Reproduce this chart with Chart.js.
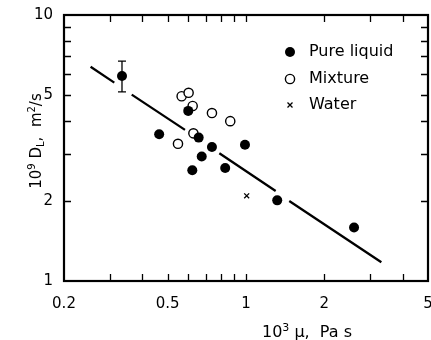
<!DOCTYPE html>
<html>
<head>
<meta charset="utf-8">
<script src="https://cdn.jsdelivr.net/npm/chart.js@4.4.1/dist/chart.umd.min.js"></script>
<style>
  html, body { margin: 0; padding: 0; background: #fff; }
  #wrap { width: 431px; height: 340px; }
</style>
</head>
<body>
<div id="wrap"><canvas id="chart" width="431" height="340"></canvas></div>
<script>
// Axis ticks (labelled and inward tick marks)
const xTickLabels = [0.2, 0.5, 1, 2, 5];
const yTickLabels = [1, 2, 5, 10];
const xTickMarks = [0.3, 0.4, 0.5, 0.6, 0.7, 0.8, 0.9, 1, 2, 3, 4];
const yTickMarks = [2, 3, 4, 5, 6, 7, 8, 9];

// Pure liquid (filled circles)
const pureX = [0.334, 0.600, 0.464, 0.658, 0.740, 0.991, 0.676, 0.622, 0.832, 1.318, 2.60];
const pureY = [5.90, 4.36, 3.56, 3.46, 3.19, 3.25, 2.94, 2.61, 2.66, 2.01, 1.59];

// Mixture (open circles)
const mixX = [0.566, 0.602, 0.624, 0.740, 0.870, 0.628, 0.548];
const mixY = [4.95, 5.10, 4.55, 4.28, 3.99, 3.59, 3.28];

// Water (x)
const waterX = [1.006];
const waterY = [2.09];

// Error bar on first pure liquid point
const errX = [0.334];
const errLow = [5.14];
const errHigh = [6.71];

// Fitted line, broken (null) where it passes the markers
const fitX = [0.253, 0.312, null, 0.364, 0.583, null, 0.790, 1.30, null, 1.466, 3.31];
const fitY = [6.39, 5.57, null, 5.02, 3.70, null, 3.02, 2.18, null, 2.00, 1.176];

const FONT = "'DejaVu Sans', sans-serif";
const toXY = (xs, ys) => xs.map((x, i) => ({x: x, y: ys[i]}));

// Frame, inward ticks, error bar, legend and axis titles
const decorPlugin = {
    id: 'decor',
    afterDatasetsDraw(chart) {
        const ctx = chart.ctx;
        const a = chart.chartArea;
        const xs = chart.scales.x;
        const ys = chart.scales.y;
        ctx.save();
        ctx.strokeStyle = '#000';
        ctx.fillStyle = '#000';

        // ticks
        ctx.lineWidth = 1.3;
        ctx.beginPath();
        xTickMarks.forEach(v => {
            const px = Math.round(xs.getPixelForValue(v)) + 0.5;
            ctx.moveTo(px, a.bottom); ctx.lineTo(px, a.bottom - 7);
            ctx.moveTo(px, a.top); ctx.lineTo(px, a.top + 7);
        });
        yTickMarks.forEach(v => {
            const py = Math.round(ys.getPixelForValue(v)) + 0.5;
            ctx.moveTo(a.left, py); ctx.lineTo(a.left + 7, py);
            ctx.moveTo(a.right, py); ctx.lineTo(a.right - 7, py);
        });
        ctx.stroke();

        // frame
        ctx.lineWidth = 2.2;
        ctx.strokeRect(a.left, a.top, a.right - a.left, a.bottom - a.top);

        // error bar
        ctx.lineWidth = 1.3;
        errX.forEach((v, i) => {
            const px = xs.getPixelForValue(v);
            const y1 = ys.getPixelForValue(errLow[i]);
            const y2 = ys.getPixelForValue(errHigh[i]);
            ctx.beginPath();
            ctx.moveTo(px, y1); ctx.lineTo(px, y2);
            ctx.moveTo(px - 4, y1); ctx.lineTo(px + 4, y1);
            ctx.moveTo(px - 4, y2); ctx.lineTo(px + 4, y2);
            ctx.stroke();
        });

        // legend
        const lx = 290, ly = [52, 79, 105];
        ctx.beginPath(); ctx.arc(lx, ly[0], 5, 0, Math.PI * 2); ctx.fill();
        ctx.lineWidth = 1.4;
        ctx.beginPath(); ctx.arc(lx, ly[1], 4.6, 0, Math.PI * 2); ctx.stroke();
        ctx.lineWidth = 1.3;
        ctx.beginPath();
        ctx.moveTo(lx - 2.5, ly[2] - 2.5); ctx.lineTo(lx + 2.5, ly[2] + 2.5);
        ctx.moveTo(lx - 2.5, ly[2] + 2.5); ctx.lineTo(lx + 2.5, ly[2] - 2.5);
        ctx.stroke();
        ctx.font = '16px ' + FONT;
        ctx.textBaseline = 'middle';
        ctx.textAlign = 'left';
        ['Pure liquid', 'Mixture', 'Water'].forEach((t, i) => ctx.fillText(t, 309, ly[i]));

        // axis titles with super/subscripts
        const drawRich = (parts, cx, cy) => {
            ctx.textBaseline = 'alphabetic';
            ctx.textAlign = 'left';
            let w = 0;
            parts.forEach(p => { ctx.font = p.size + 'px ' + FONT; w += ctx.measureText(p.t).width; });
            let x = cx - w / 2;
            parts.forEach(p => {
                ctx.font = p.size + 'px ' + FONT;
                ctx.fillText(p.t, x, cy + (p.dy || 0));
                x += ctx.measureText(p.t).width;
            });
        };
        drawRich([
            {t: '10', size: 16}, {t: '3', size: 11, dy: -6},
            {t: ' \u03bc,  Pa s', size: 16}
        ], 307, 337);

        ctx.save();
        ctx.translate(41, 141);
        ctx.rotate(-Math.PI / 2);
        drawRich([
            {t: '10', size: 15}, {t: '9', size: 10, dy: -6},
            {t: ' D', size: 15}, {t: 'L', size: 10, dy: 3},
            {t: ',  m', size: 15}, {t: '2', size: 10, dy: -6},
            {t: '/s', size: 15}
        ], 0, 0);
        ctx.restore();

        ctx.restore();
    }
};

new Chart(document.getElementById('chart'), {
    type: 'scatter',
    data: {
        datasets: [
            {
                type: 'line',
                label: 'Fit',
                data: toXY(fitX, fitY),
                borderColor: '#000',
                borderWidth: 2.3,
                pointRadius: 0,
                spanGaps: false,
                fill: false
            },
            {
                label: 'Pure liquid',
                data: toXY(pureX, pureY),
                pointStyle: 'circle',
                pointRadius: 5,
                backgroundColor: '#000',
                borderColor: '#000',
                borderWidth: 0
            },
            {
                label: 'Mixture',
                data: toXY(mixX, mixY),
                pointStyle: 'circle',
                pointRadius: 4.6,
                backgroundColor: '#fff',
                borderColor: '#000',
                borderWidth: 1.4
            },
            {
                label: 'Water',
                data: toXY(waterX, waterY),
                pointStyle: 'crossRot',
                pointRadius: 3.5,
                borderColor: '#000',
                borderWidth: 1.3
            }
        ]
    },
    options: {
        responsive: false,
        animation: false,
        layout: {autoPadding: false, padding: {left: 0, right: 3, top: 15, bottom: 0}},
        plugins: {
            legend: {display: false},
            tooltip: {enabled: false}
        },
        scales: {
            x: {
                type: 'logarithmic',
                min: 0.2,
                max: 5,
                grid: {display: false, drawTicks: false},
                border: {display: false},
                afterBuildTicks: s => { s.ticks = xTickLabels.map(v => ({value: v})); },
                afterFit: s => { s.height = 59; s.paddingLeft = 0; s.paddingRight = 0; },
                ticks: {
                    color: '#000',
                    font: {family: FONT, size: 15},
                    padding: 14,
                    maxRotation: 0,
                    autoSkip: false,
                    callback: v => String(v)
                }
            },
            y: {
                type: 'logarithmic',
                min: 1,
                max: 10,
                grid: {display: false, drawTicks: false},
                border: {display: false},
                afterBuildTicks: s => { s.ticks = yTickLabels.map(v => ({value: v})); },
                afterFit: s => { s.width = 64; s.paddingTop = 0; s.paddingBottom = 0; },
                ticks: {
                    color: '#000',
                    font: {family: FONT, size: 15},
                    padding: 11,
                    autoSkip: false,
                    callback: v => String(v)
                }
            }
        }
    },
    plugins: [decorPlugin]
});
</script>
</body>
</html>
